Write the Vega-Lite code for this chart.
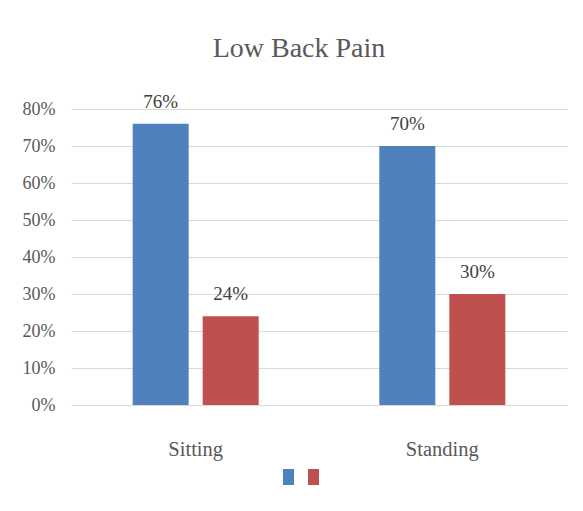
{
  "$schema": "https://vega.github.io/schema/vega-lite/v6.json",
  "width": 496,
  "height": 296,
  "autosize": {"type": "none"},
  "padding": {"left": 71, "top": 109, "right": 16, "bottom": 106},
  "background": "white",
  "config": {
    "view": {"stroke": null},
    "font": "Liberation Serif"
  },
  "title": {
    "text": "Low Back Pain",
    "font": "Liberation Serif",
    "fontSize": 28,
    "fontWeight": "normal",
    "color": "#595959",
    "anchor": "middle",
    "frame": "group",
    "baseline": "alphabetic",
    "offset": 8,
    "dx": -20
  },
  "data": {
    "values": [
      {"posture": "Sitting", "series": "Series 1", "value": 0.76},
      {"posture": "Sitting", "series": "Series 2", "value": 0.24},
      {"posture": "Standing", "series": "Series 1", "value": 0.70},
      {"posture": "Standing", "series": "Series 2", "value": 0.30}
    ]
  },
  "encoding": {
    "x": {
      "field": "posture",
      "type": "nominal",
      "sort": ["Sitting", "Standing"],
      "scale": {"paddingInner": 0.489, "paddingOuter": 0.25},
      "axis": {
        "title": null,
        "domain": false,
        "ticks": false,
        "labelAngle": 0,
        "labelFont": "Liberation Serif",
        "labelFontSize": 20.5,
        "labelColor": "#595959",
        "labelPadding": 34
      }
    },
    "xOffset": {
      "field": "series",
      "type": "nominal",
      "scale": {"paddingInner": 0.2, "paddingOuter": 0}
    },
    "y": {
      "field": "value",
      "type": "quantitative",
      "scale": {"domain": [0, 0.8], "nice": false},
      "axis": {
        "title": null,
        "values": [0, 0.1, 0.2, 0.3, 0.4, 0.5, 0.6, 0.7, 0.8],
        "format": ".0%",
        "domain": false,
        "ticks": false,
        "grid": true,
        "gridColor": "#d9d9d9",
        "gridWidth": 1,
        "labelFont": "Liberation Serif",
        "labelFontSize": 18,
        "labelColor": "#595959",
        "labelPadding": 16
      }
    }
  },
  "layer": [
    {
      "mark": {"type": "bar"},
      "encoding": {
        "color": {
          "field": "series",
          "type": "nominal",
          "scale": {"domain": ["Series 1", "Series 2"], "range": ["#4F81BD", "#C0504D"]},
          "legend": {
            "title": null,
            "orient": "none",
            "direction": "horizontal",
            "legendX": 209.5,
            "legendY": 360,
            "labelExpr": "''",
            "labelOffset": 0,
            "columnPadding": 9,
            "symbolType": "M-0.6875,-1H0.6875V1H-0.6875Z",
            "symbolSize": 256,
            "symbolStrokeWidth": 0,
            "symbolOpacity": 1,
            "padding": 0
          }
        }
      }
    },
    {
      "mark": {
        "type": "text",
        "baseline": "middle",
        "dy": -22,
        "font": "Liberation Serif",
        "fontSize": 19,
        "color": "#404040"
      },
      "encoding": {
        "text": {"field": "value", "type": "quantitative", "format": ".0%"}
      }
    }
  ]
}
